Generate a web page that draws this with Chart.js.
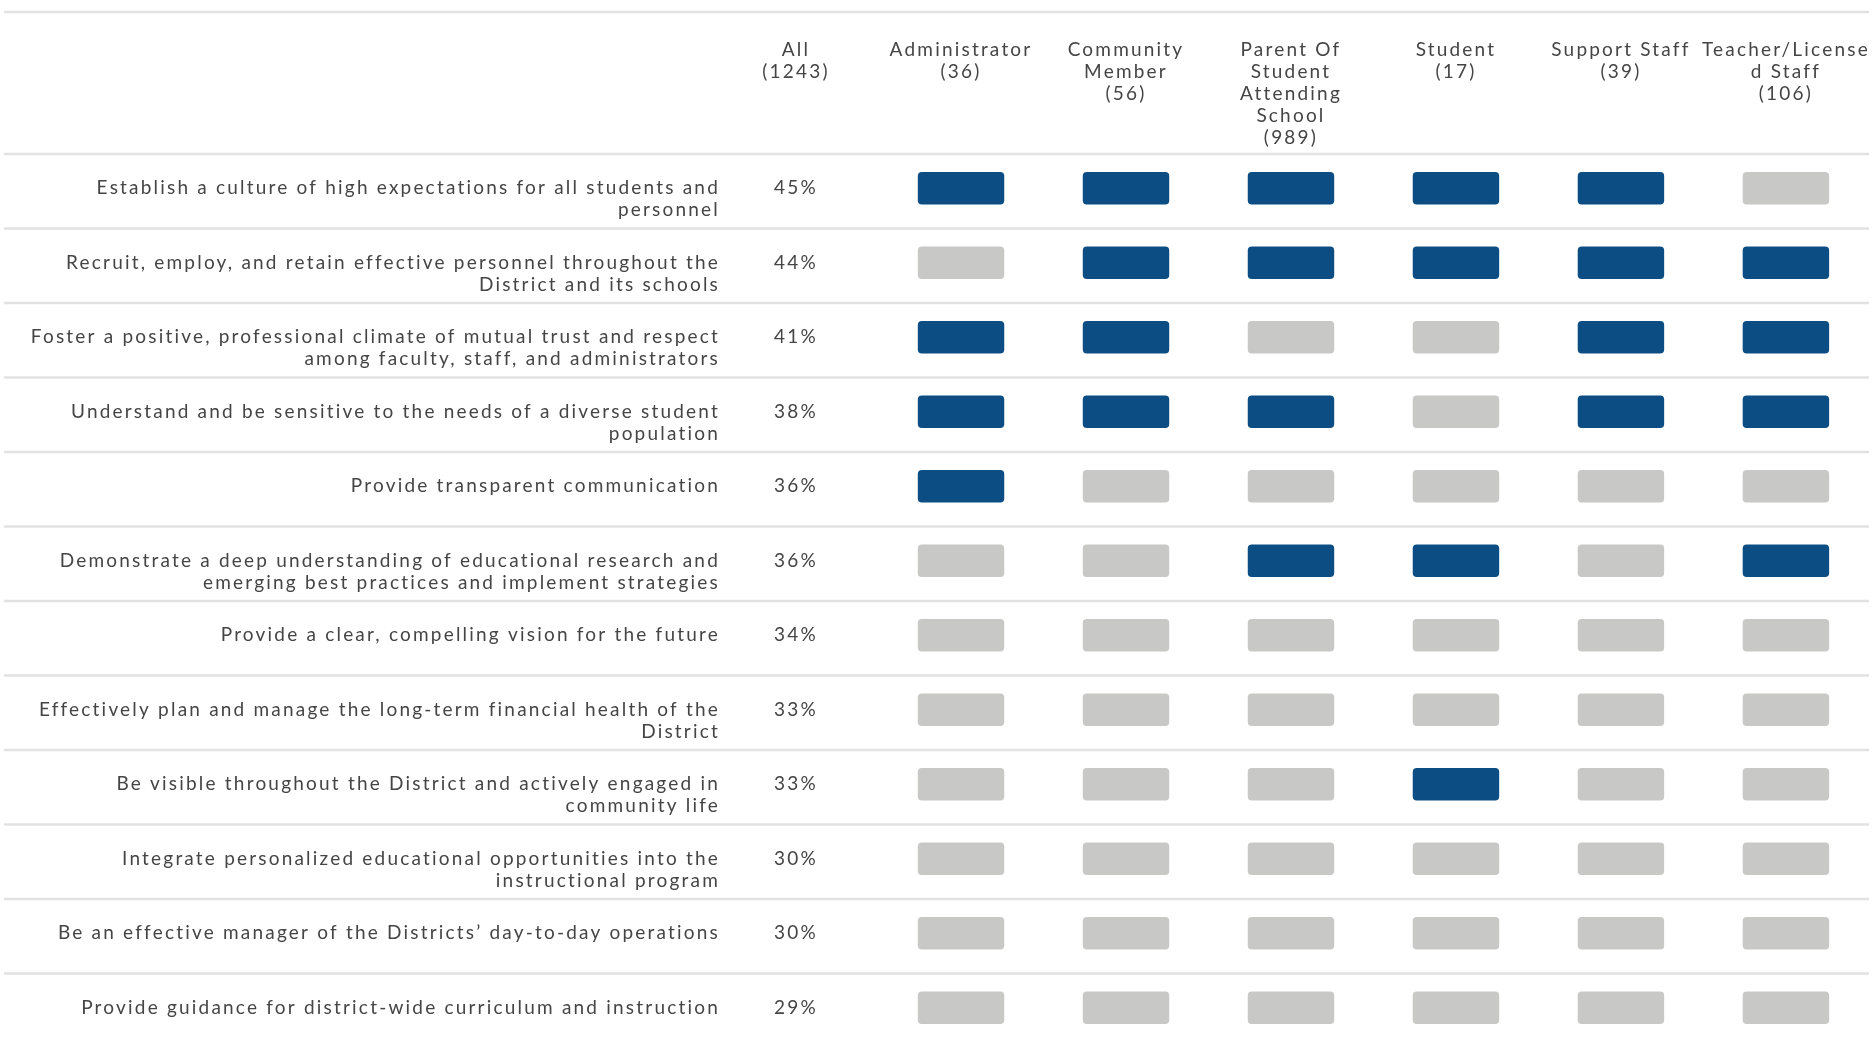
<!DOCTYPE html>
<html>
<head>
<meta charset="utf-8">
<script src="https://cdn.jsdelivr.net/npm/chart.js@4"></script>
<style>
  html, body { margin: 0; padding: 0; background: #fff; overflow: hidden; }
  #wrap { width: 1875px; height: 1038px; overflow: hidden; }
</style>
</head>
<body>
<div id="wrap"><canvas id="priorities" width="1875" height="1046"></canvas></div>
<script>
// statements, in the order of the "All" share
const statements = [
  ['Establish a culture of high expectations for all students and', 'personnel'],
  ['Recruit, employ, and retain effective personnel throughout the', 'District and its schools'],
  ['Foster a positive, professional climate of mutual trust and respect', 'among faculty, staff, and administrators'],
  ['Understand and be sensitive to the needs of a diverse student', 'population'],
  'Provide transparent communication',
  ['Demonstrate a deep understanding of educational research and', 'emerging best practices and implement strategies'],
  'Provide a clear, compelling vision for the future',
  ['Effectively plan and manage the long-term financial health of the', 'District'],
  ['Be visible throughout the District and actively engaged in', 'community life'],
  ['Integrate personalized educational opportunities into the', 'instructional program'],
  'Be an effective manager of the Districts\u2019 day-to-day operations',
  'Provide guidance for district-wide curriculum and instruction'
];
const allPct = [45, 44, 41, 38, 36, 36, 34, 33, 33, 30, 30, 29];

// column headers (first one is the "All" percentage column)
const headers = [
  ['All', '(1243)'],
  ['Administrator', '(36)'],
  ['Community', 'Member', '(56)'],
  ['Parent Of', 'Student', 'Attending', 'School', '(989)'],
  ['Student', '(17)'],
  ['Support Staff', '(39)'],
  ['Teacher/License', 'd Staff', '(106)']
];

// 1 = among the group's top picks (dark), 0 = not (grey)
const administrator = [1, 0, 1, 1, 1, 0, 0, 0, 0, 0, 0, 0];
const community     = [1, 1, 1, 1, 0, 0, 0, 0, 0, 0, 0, 0];
const parent        = [1, 1, 0, 1, 0, 1, 0, 0, 0, 0, 0, 0];
const student       = [1, 1, 0, 0, 0, 1, 0, 0, 1, 0, 0, 0];
const supportStaff  = [1, 1, 1, 1, 0, 0, 0, 0, 0, 0, 0, 0];
const teacher       = [0, 1, 1, 1, 0, 1, 0, 0, 0, 0, 0, 0];
const groups = [administrator, community, parent, student, supportStaff, teacher];

const BLUE = '#0c4e84';
const GREY = '#c8c8c6';
const TEXT = '#454545';
const RULE = '#e2e2e2';
const BOX_HALF = 0.26;
const FONT = { family: 'Lato', size: 19, lineHeight: 22 / 19 };
const LETTER_SPACING = '2.2px';

const datasets = groups.map((flags, g) => ({
  label: headers[g + 1].join(' '),
  data: flags.map(() => [g + 1 - BOX_HALF, g + 1 + BOX_HALF]),
  backgroundColor: flags.map(f => f ? BLUE : GREY),
  borderRadius: 4,
  borderSkipped: false,
  barThickness: 32,
  grouped: false
}));

// spaced-out text like the original export
const spacing = {
  id: 'spacing',
  beforeUpdate(chart) { chart.ctx.letterSpacing = LETTER_SPACING; },
  beforeDraw(chart) { chart.ctx.letterSpacing = LETTER_SPACING; }
};

// row rules and the "All" percentages
const table = {
  id: 'table',
  beforeDatasetsDraw(chart) {
    const { ctx, scales: { x, y } } = chart;
    const rowH = y.height / statements.length;
    ctx.save();
    ctx.strokeStyle = RULE;
    ctx.lineWidth = 2.5;
    const rules = [12];
    statements.forEach((_, i) => rules.push(y.getPixelForValue(i) - rowH / 2 + 3));
    rules.push(y.getPixelForValue(statements.length - 1) + rowH / 2 + 3);
    rules.forEach(py => {
      ctx.beginPath();
      ctx.moveTo(4, py);
      ctx.lineTo(chart.width - 6, py);
      ctx.stroke();
    });
    ctx.fillStyle = TEXT;
    ctx.font = FONT.size + 'px ' + FONT.family;
    ctx.textAlign = 'center';
    ctx.textBaseline = 'middle';
    allPct.forEach((p, i) => {
      ctx.fillText(p + '%', x.getPixelForValue(0), y.getPixelForValue(i));
    });
    ctx.restore();
  }
};

new Chart(document.getElementById('priorities'), {
  type: 'bar',
  data: { labels: statements, datasets },
  options: {
    indexAxis: 'y',
    responsive: false,
    animation: false,
    devicePixelRatio: 1,
    layout: { autoPadding: false, padding: { top: 0, left: 0, right: 0, bottom: 1 } },
    plugins: { legend: { display: false }, tooltip: { enabled: false } },
    scales: {
      x: {
        type: 'linear',
        position: 'top',
        min: -0.37,
        max: 6.54,
        grid: { display: false, drawTicks: false },
        border: { display: false },
        afterBuildTicks: s => { s.ticks = headers.map((_, i) => ({ value: i })); },
        afterFit: s => { s.height = 151; s.paddingLeft = 0; s.paddingRight = 0; },
        ticks: {
          autoSkip: false,
          maxRotation: 0,
          crossAlign: 'far',
          padding: 2,
          color: TEXT,
          font: FONT,
          callback: (v, i) => headers[i]
        }
      },
      y: {
        type: 'category',
        offset: true,
        grid: { display: false, drawTicks: false },
        border: { display: false },
        afterFit: s => { s.width = 735; s.paddingTop = 0; s.paddingBottom = 0; },
        ticks: {
          padding: 15,
          crossAlign: 'near',
          color: TEXT,
          font: FONT,
          // first line sits level with the boxes, wrapped lines hang below
          callback: (v, i) => Array.isArray(statements[i]) ? [''].concat(statements[i]) : statements[i]
        }
      }
    }
  },
  plugins: [spacing, table]
});
</script>
</body>
</html>
